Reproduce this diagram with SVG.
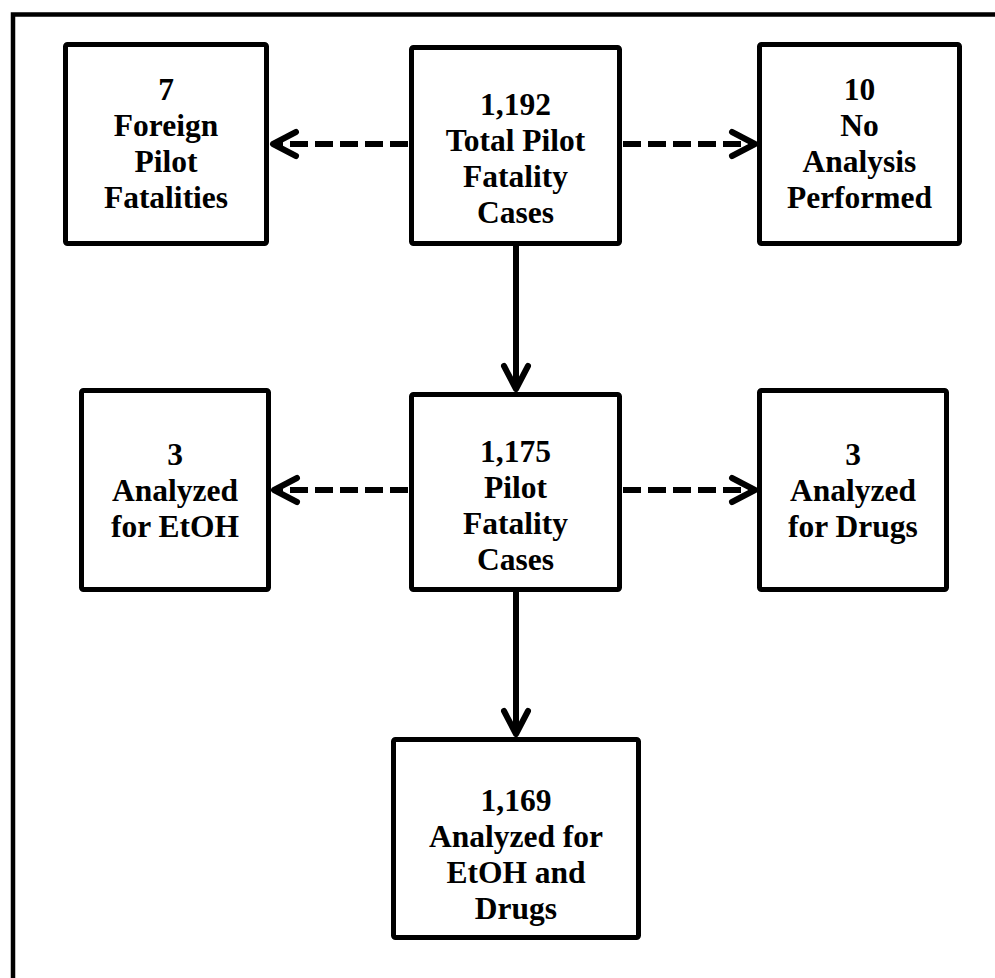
<svg xmlns="http://www.w3.org/2000/svg" width="995" height="978" viewBox="0 0 995 978">
<style>
  .box { fill: #fff; stroke: #000; stroke-width: 5; stroke-linejoin: round; }
  .t { font-family: "Liberation Serif", "Times New Roman", serif; font-weight: bold; font-size: 31.5px; fill: #000; text-anchor: middle; }
  .solid { fill: none; stroke: #000; stroke-width: 6; }
  .dash { fill: none; stroke: #000; stroke-width: 6; stroke-dasharray: 18 7; }
  .frame { fill: none; stroke: #000; stroke-width: 4.5; }
</style>
<defs>
  <marker id="arrow" markerUnits="userSpaceOnUse" viewBox="-30 -16 34 32" markerWidth="34" markerHeight="32" refX="0" refY="0" orient="auto" overflow="visible">
    <path d="M -23 -12 L 0 0 L -23 12" fill="none" stroke="#000" stroke-width="6" stroke-linecap="round" stroke-linejoin="round"/>
  </marker>
</defs>
<rect width="995" height="978" fill="#fff"/>
<g id="frame">
  <path class="frame" d="M 13 978 L 13 14.5 L 995 14.5"/>
</g>
<g id="connectors">
  <path class="dash" d="M 408 144 L 273 144" marker-end="url(#arrow)"/>
  <path class="dash" d="M 623 144 L 755 144" marker-end="url(#arrow)"/>
  <path class="solid" d="M 516 246 L 516 389" marker-end="url(#arrow)"/>
  <path class="dash" d="M 408 490 L 274 490" marker-end="url(#arrow)"/>
  <path class="dash" d="M 623 490 L 755 490" marker-end="url(#arrow)"/>
  <path class="solid" d="M 516 592 L 516 734" marker-end="url(#arrow)"/>
</g>
<g id="foreign">
  <rect class="box" x="65.5" y="44.5" width="201" height="199" rx="2"/>
  <text class="t" x="166" y="100">7</text>
  <text class="t" x="166" y="136">Foreign</text>
  <text class="t" x="166" y="172">Pilot</text>
  <text class="t" x="166" y="208">Fatalities</text>
</g>
<g id="total">
  <rect class="box" x="411.5" y="47.5" width="208" height="196" rx="2"/>
  <text class="t" x="515.5" y="115">1,192</text>
  <text class="t" x="515.5" y="151">Total Pilot</text>
  <text class="t" x="515.5" y="187">Fatality</text>
  <text class="t" x="515.5" y="223">Cases</text>
</g>
<g id="noanalysis">
  <rect class="box" x="759.5" y="44.5" width="200" height="199" rx="2"/>
  <text class="t" x="859.5" y="100">10</text>
  <text class="t" x="859.5" y="136">No</text>
  <text class="t" x="859.5" y="172">Analysis</text>
  <text class="t" x="859.5" y="208">Performed</text>
</g>
<g id="etoh">
  <rect class="box" x="81.5" y="390.5" width="187" height="199" rx="2"/>
  <text class="t" x="175" y="465">3</text>
  <text class="t" x="175" y="501">Analyzed</text>
  <text class="t" x="175" y="537">for EtOH</text>
</g>
<g id="pilot">
  <rect class="box" x="411.5" y="394.5" width="208" height="195" rx="2"/>
  <text class="t" x="515.5" y="462">1,175</text>
  <text class="t" x="515.5" y="498">Pilot</text>
  <text class="t" x="515.5" y="534">Fatality</text>
  <text class="t" x="515.5" y="570">Cases</text>
</g>
<g id="drugs">
  <rect class="box" x="759.5" y="390.5" width="187" height="199" rx="2"/>
  <text class="t" x="853" y="465">3</text>
  <text class="t" x="853" y="501">Analyzed</text>
  <text class="t" x="853" y="537">for Drugs</text>
</g>
<g id="both">
  <rect class="box" x="393.5" y="739.5" width="245" height="198" rx="2"/>
  <text class="t" x="516" y="811">1,169</text>
  <text class="t" x="516" y="847">Analyzed for</text>
  <text class="t" x="516" y="883">EtOH and</text>
  <text class="t" x="516" y="919">Drugs</text>
</g>
</svg>
